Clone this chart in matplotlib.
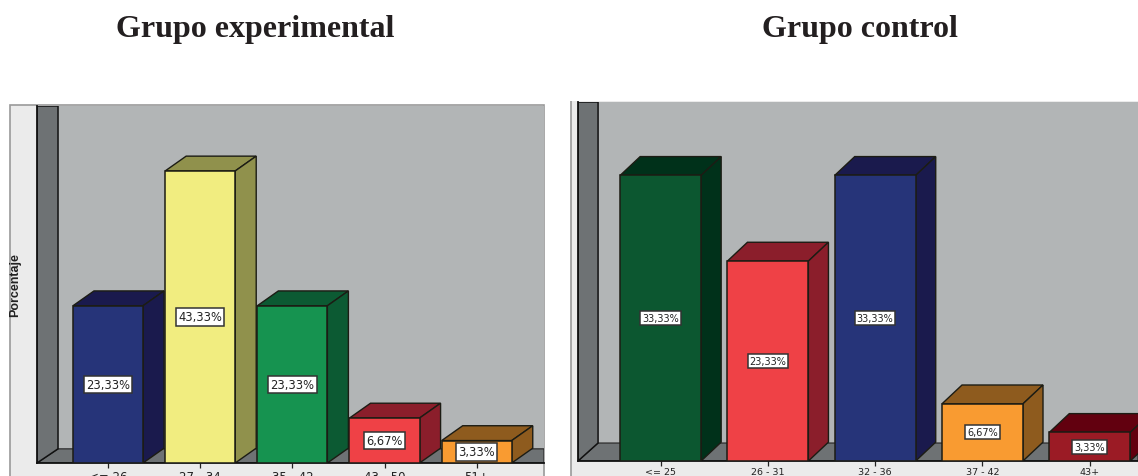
import matplotlib
matplotlib.use("Agg")
import matplotlib.pyplot as plt
from matplotlib.patches import Polygon, Rectangle

# Values
expCategories = ["<= 26", "27 - 34", "35 - 42", "43 - 50", "51+"]
expValues = [23.33, 43.33, 23.33, 6.67, 3.33]
expLabels = ["23,33%", "43,33%", "23,33%", "6,67%", "3,33%"]
expFront = ["#263479", "#f1ed80", "#169350", "#ef4146", "#f99b31"]
expSide = ["#1a1a4d", "#90914c", "#0c5a33", "#8b1e2b", "#8e5b1e"]

ctlCategories = ["<= 25", "26 - 31", "32 - 36", "37 - 42", "43+"]
ctlValues = [33.33, 23.33, 33.33, 6.67, 3.33]
ctlLabels = ["33,33%", "23,33%", "33,33%", "6,67%", "3,33%"]
ctlFront = ["#0c5730", "#ef4146", "#263479", "#f99b31", "#9b1b25"]
ctlSide = ["#00311a", "#8b1e2b", "#1a1a4d", "#8e5b1e", "#62000f"]

W, H = 1138, 477
WALL = "#b2b5b6"
DARKWALL = "#6e7274"
PANEL = "#ebebeb"

fig = plt.figure(figsize=(W / 100, H / 100), dpi=100, facecolor="white")

# Axes position from pixel box (y measured from the top of the image)
def pixelAxes(left, top, right, bottom):
    return fig.add_axes([left / W, 1 - bottom / H, (right - left) / W, (bottom - top) / H])

# Light panel behind the chart, in pixels
def drawPanel(left, top, right, bottom, edge):
    fig.add_artist(Rectangle((left / W, 1 - bottom / H), (right - left) / W, (bottom - top) / H,
                             transform=fig.transFigure, facecolor=PANEL, edgecolor=edge, linewidth=1.2, zorder=-2))

# One 3D looking bar chart
def drawChart(ax, categories, values, labels, front, side, barWidth, dx, dy, floorDy, xlim, ylim, labelSize, tickSize, tickPad):
    ax.set_xlim(xlim)
    ax.set_ylim(ylim)
    ax.set_facecolor(WALL)
    for spine in ax.spines.values():
        spine.set_visible(False)
    ax.spines["bottom"].set_visible(True)
    ax.spines["bottom"].set_linewidth(1.3)
    ax.spines["bottom"].set_color("#111111")
    ax.spines["left"].set_visible(True)
    ax.spines["left"].set_linewidth(1.3)
    ax.spines["left"].set_color("#111111")
    ax.set_yticks([])
    ax.set_xticks(range(len(categories)))
    ax.set_xticklabels(categories, fontsize=tickSize, color="#222222", family="DejaVu Sans")
    ax.tick_params(axis="x", length=3.5, width=0.9, color="#222222", pad=tickPad)
    # Walls and floor
    x0, x1 = xlim
    top = ylim[1]
    ax.add_patch(Polygon([(x0, 0), (x0 + dx, floorDy), (x1, floorDy), (x1, 0)], facecolor=DARKWALL, edgecolor="#222222", linewidth=0.8, zorder=1))
    ax.add_patch(Polygon([(x0, 0), (x0 + dx, floorDy), (x0 + dx, top), (x0, top)], facecolor=DARKWALL, edgecolor="#111111", linewidth=1.1, zorder=1))
    # Bars
    for i, v in enumerate(values):
        a = i - barWidth / 2
        b = i + barWidth / 2
        lineColor = "#1c1c14"
        ax.bar(i, v, width=barWidth, color=front[i], edgecolor=lineColor, linewidth=1.1, zorder=3)
        ax.add_patch(Polygon([(a, v), (a + dx, v + dy), (b + dx, v + dy), (b, v)], facecolor=side[i], edgecolor=lineColor, linewidth=1.0, zorder=2))
        ax.add_patch(Polygon([(b, 0), (b + dx, dy), (b + dx, v + dy), (b, v)], facecolor=side[i], edgecolor=lineColor, linewidth=1.0, zorder=2))
        ax.text(i, v / 2, labels[i], ha="center", va="center", fontsize=labelSize, color="#222222", zorder=5,
                family="DejaVu Sans", bbox=dict(boxstyle="square,pad=0.2", facecolor="white", edgecolor="#333333", linewidth=1.1))

# Left chart
drawPanel(10, 106, 544, 490, "#9a9a9a")
axExp = pixelAxes(37, 107, 544, 464)
drawChart(axExp, expCategories, expValues, expLabels, expFront, expSide, 0.76, 0.228, 2.2, 2.1,
          (-0.77, 4.73), (0, 52.97), 8.3, 8.5, 1.5)
fig.text(15 / W, 1 - 285 / H, "Porcentaje", rotation=90, ha="center", va="center", fontsize=9,
         fontweight="bold", family="Liberation Sans", color="#222222")

# Right chart
drawPanel(571, 96, 1150, 490, "#9a9a9a")
fig.add_artist(Rectangle((0.49, 1 - 102 / H), 0.51, 12 / H, transform=fig.transFigure, facecolor="white", edgecolor="none", zorder=-1))
axCtl = pixelAxes(578, 103, 1138, 462)
drawChart(axCtl, ctlCategories, ctlValues, ctlLabels, ctlFront, ctlSide, 0.755, 0.187, 2.2, 2.1,
          (-0.77, 4.45), (0, 41.9), 7.0, 6.8, 0.8)

# Titles
fig.text(255 / W, 1 - 30 / H, "Grupo experimental", ha="center", va="center", fontsize=23,
         fontweight="bold", family="Liberation Serif", color="#231f20")
fig.text(860 / W, 1 - 30 / H, "Grupo control", ha="center", va="center", fontsize=23,
         fontweight="bold", family="Liberation Serif", color="#231f20")

fig.savefig("out.png", dpi=100)
